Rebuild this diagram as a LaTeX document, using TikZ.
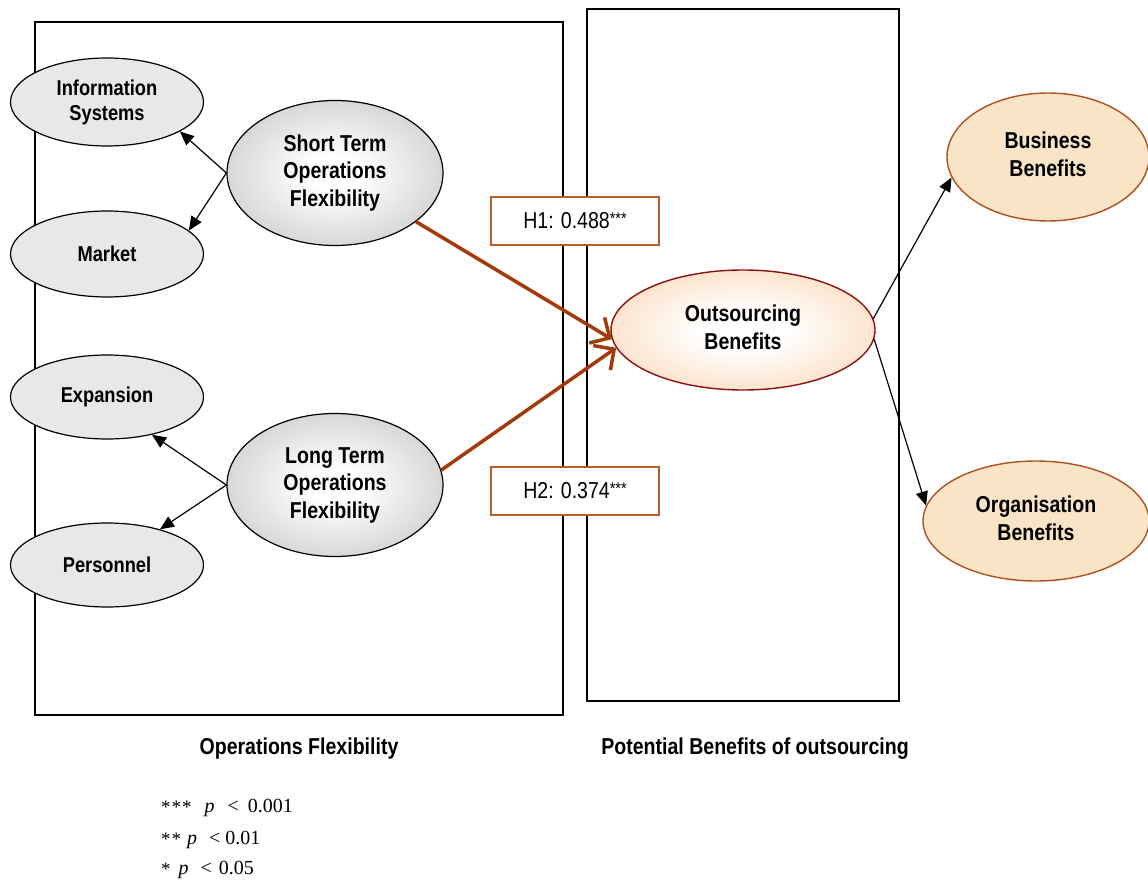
\documentclass[tikz,border=0pt]{standalone}
\usepackage{fontspec}
\setmainfont{Liberation Sans}[FakeStretch=0.85]
\newfontfamily\legendfont{Liberation Serif}
\usetikzlibrary{shapes.geometric,arrows.meta}
\definecolor{smallfill}{HTML}{E8E8E8}
\definecolor{grayedge}{HTML}{A4A4A4}
\definecolor{orangeedge}{HTML}{F9BC84}
\definecolor{peach}{HTML}{FAE4C6}
\definecolor{peachborder}{HTML}{B0501E}
\definecolor{osborder}{HTML}{8B1010}
\definecolor{brownarrow}{HTML}{A33A0A}
\definecolor{boxborder}{HTML}{B5602A}
\pgfdeclareradialshading{grayrad}{\pgfpoint{0bp}{0bp}}{color(0bp)=(white); color(6bp)=(white); color(50bp)=(grayedge)}
\pgfdeclareradialshading{orangerad}{\pgfpoint{0bp}{0bp}}{color(0bp)=(white); color(8bp)=(white); color(50bp)=(orangeedge)}
\newcommand{\liftlines}[2]{\raisebox{#1}{\begin{tabular}{@{}c@{}}#2\end{tabular}}}
\newcommand{\stars}{\raisebox{0.35ex}{\fontsize{17}{17}\selectfont***}}
\newcommand{\lstar}{\raisebox{-0.15ex}{\fontsize{19}{19}\selectfont*}}
\tikzset{
  frame/.style={draw=black, line width=1.4pt},
  smallell/.style={ellipse, draw=black, line width=1.2pt, fill=smallfill, minimum width=193pt, minimum height=88pt, inner sep=0pt, align=center, font=\fontsize{21.5}{25}\selectfont\bfseries},
  bigell/.style={ellipse, draw=black, line width=1.2pt, shading=grayrad, minimum width=216pt, minimum height=145pt, inner sep=0pt, align=center, font=\fontsize{23}{27.5}\selectfont\bfseries},
  osell/.style={ellipse, draw=osborder, line width=1.4pt, shading=orangerad, minimum width=264pt, minimum height=120pt, inner sep=0pt, align=center, font=\fontsize{23}{27.5}\selectfont\bfseries},
  benell/.style={ellipse, draw=peachborder, line width=1.4pt, fill=peach, inner sep=0pt, align=center, font=\fontsize{23}{27.5}\selectfont\bfseries},
  hbox/.style={draw=boxborder, line width=1.5pt, fill=white, minimum width=168pt, minimum height=48pt, inner sep=0pt, font=\fontsize{23}{27}\selectfont},
  blackarrow/.style={draw=black, line width=1.2pt, -{Triangle[length=14pt,width=12pt]}},
  brownarr/.style={draw=brownarrow, line width=3.5pt, -{Straight Barb[length=15pt,width=30pt,line width=3.5pt]}},
  caption/.style={font=\fontsize{23}{27}\selectfont\bfseries},
  legend/.style={anchor=west, inner sep=0pt, font=\legendfont\fontsize{20}{22}\selectfont}
}
\begin{document}
\begin{tikzpicture}[x=1pt,y=-1pt]
\useasboundingbox (0,0) rectangle (1148,882);
% frames
\draw[frame] (35,22) rectangle (563,715);
\draw[frame] (587,9) rectangle (899,701);
% small ellipses
\node[smallell] (info) at (107,102) {Information\\Systems};
\node[smallell, minimum height=86pt] (mk) at (107,254) {Market};
\node[smallell, minimum height=84pt] (ex) at (107,397) {Expansion};
\node[smallell, minimum height=84pt] (pe) at (107,565) {Personnel};
% big ellipses
\node[bigell] (st) at (335,173) {Short Term\\Operations\\Flexibility};
\node[bigell, minimum height=143pt] (lt) at (335,485) {Long Term\\Operations\\Flexibility};
% outcome
\node[osell] (os) at (743,330) {\liftlines{6pt}{Outsourcing\\Benefits}};
\node[benell, minimum width=202pt, minimum height=128pt] (bb) at (1048,157) {\liftlines{2pt}{Business\\Benefits}};
\node[benell, minimum width=226pt, minimum height=120pt] (og) at (1036,521) {\liftlines{5pt}{Organisation\\Benefits}};
% hypothesis boxes
\node[hbox] (h1) at (575,221) {H1: 0.488\stars};
\node[hbox] (h2) at (575,491) {H2: 0.374\stars};
% arrows
\draw[blackarrow] (st.west) -- (info.-22);
\draw[blackarrow] (st.west) -- (mk.16);
\draw[blackarrow] (lt.west) -- (ex.-40);
\draw[blackarrow] (lt.west) -- (pe.34);
\draw[brownarr] (st.-31) -- (os.184);
\draw[brownarr] (lt.8) -- (os.188);
\draw[blackarrow] (os.5) -- (bb.192);
\draw[blackarrow] (os.-4) -- (og.172);
% captions
\node[caption] (c1) at (299,749) {Operations Flexibility};
\node[caption] (c2) at (755,749) {Potential Benefits of outsourcing};
% legend
\node[legend] (l1) at (161,808) {\lstar\hspace{1pt}\lstar\hspace{1pt}\lstar\hspace{13pt}\textit{p}\hspace{13pt}<\hspace{9pt}0.001};
\node[legend] (l2) at (161,840) {\lstar\hspace{1pt}\lstar\hspace{6pt}\textit{p}\hspace{12pt}<\hspace{5pt}0.01};
\node[legend] (l3) at (161,870) {\lstar\hspace{8pt}\textit{p}\hspace{12pt}<\hspace{7pt}0.05};
\end{tikzpicture}
\end{document}
